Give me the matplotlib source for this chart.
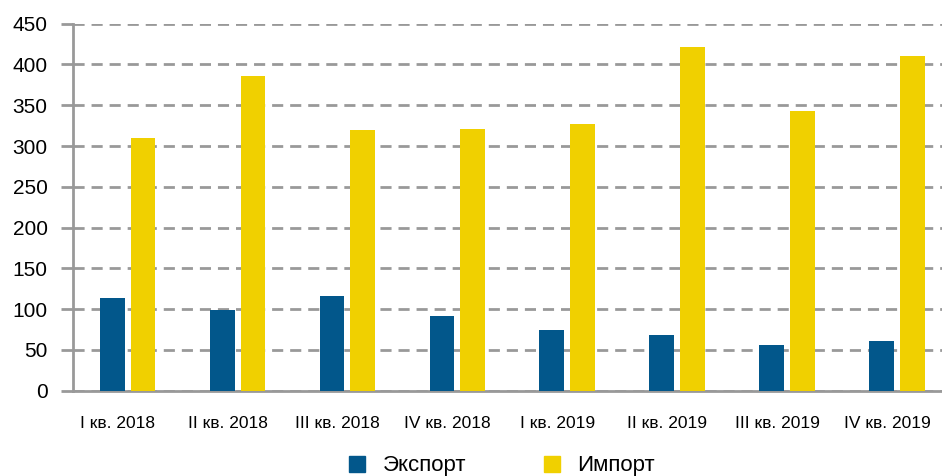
import matplotlib
matplotlib.use("Agg")
import matplotlib.pyplot as plt
import matplotlib.transforms as mtransforms
import numpy as np
from matplotlib.patches import Patch

plt.rcParams['font.family'] = ['Liberation Sans', 'DejaVu Sans']

categories = ["I кв. 2018", "II кв. 2018", "III кв. 2018", "IV кв. 2018",
              "I кв. 2019", "II кв. 2019", "III кв. 2019", "IV кв. 2019"]
export_vals = [114, 99, 116, 92, 75, 68, 56, 61]
import_vals = [310, 386, 320, 321, 327, 421, 343, 410]
yticks = [0, 50, 100, 150, 200, 250, 300, 350, 400, 450]

c_exp = "#02578b"
c_imp = "#f0d000"
grid_c = "#999999"

fig = plt.figure(figsize=(9.42, 4.76), dpi=100)
ax = fig.add_axes([72.7/942, 1-390.7/476, 1-72.7/942, (390.7-23.7)/476])

x = np.arange(len(categories))
w = 0.225
off = 0.14
ax.bar(x - off, export_vals, width=w, color=c_exp, zorder=3, label="Экспорт")
ax.bar(x + off, import_vals, width=w, color=c_imp, zorder=3, label="Импорт")

ax.set_xlim(-0.5, 7.41)
ax.set_ylim(0, 450)
ax.set_yticks(yticks)
ax.set_xticks(x)
ax.set_xticklabels(categories, fontsize=12.5)
ax.tick_params(axis='y', labelsize=15, length=9, width=2, color=grid_c, pad=9)
ax.tick_params(axis='x', length=0, pad=18)
shift = mtransforms.ScaledTranslation(-10/100, 0, fig.dpi_scale_trans)
for lbl in ax.get_xticklabels():
    lbl.set_transform(lbl.get_transform() + shift)

ax.yaxis.grid(True, color=grid_c, linewidth=2, linestyle=(0, (4, 2.5)), zorder=0)
ax.set_axisbelow(True)
for s in ['top', 'right']:
    ax.spines[s].set_visible(False)
for s in ['left', 'bottom']:
    ax.spines[s].set_color(grid_c)
    ax.spines[s].set_linewidth(2)

handles = [Patch(color=c_exp), Patch(color=c_imp)]
fig.legend(handles, ["Экспорт", "Импорт"], loc='center', bbox_to_anchor=(502/942, 1-466/476),
           ncol=2, frameon=False, fontsize=16, handlelength=0.72, handleheight=0.72,
           handletextpad=0.8, columnspacing=3.5)

fig.savefig("out.png", dpi=100)
